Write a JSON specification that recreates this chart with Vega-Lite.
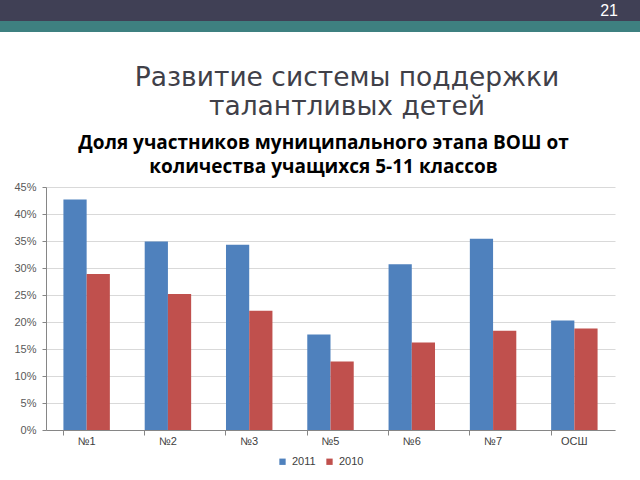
{
  "$schema": "https://vega.github.io/schema/vega-lite/v6.json",
  "padding": 0,
  "spacing": 0,
  "background": "white",
  "config": {"view": {"stroke": null}, "font": "DejaVu Sans", "legend": {"layout": {"bottom": {"anchor": "middle"}}}},
  "vconcat": [
    {
      "width": 640, "height": 21,
      "view": {"fill": "#404055", "stroke": null},
      "data": {"values": [{"page": "21"}]},
      "mark": {"type": "text", "color": "white", "fontSize": 16, "font": "Liberation Sans", "align": "right", "dx": -22},
      "encoding": {
        "x": {"datum": 1, "type": "quantitative", "scale": {"domain": [0, 1]}, "axis": null},
        "text": {"field": "page"}
      }
    },
    {
      "width": 640, "height": 11,
      "view": {"fill": "#3e8080", "stroke": null},
      "data": {"values": []},
      "mark": "rect",
      "encoding": {}
    },
    {
      "width": 640, "height": 102,
      "data": {"values": [{"t": "Развитие системы поддержки\nталантливых детей"}]},
      "mark": {"type": "text", "lineBreak": "\n", "fontSize": 26.5, "color": "#404048", "dx": 27, "dy": -5, "lineHeight": 29},
      "encoding": {"text": {"field": "t"}}
    },
    {
      "spacing": 0,
      "hconcat": [
        {
          "width": 13, "height": 243,
          "data": {"values": []},
          "mark": "rect",
          "encoding": {}
        },
        {
          "width": 569, "height": 243,
          "title": {
            "text": ["Доля участников муниципального этапа ВОШ от", "количества учащихся 5-11 классов"],
            "font": "Open Sans", "fontSize": 19, "fontWeight": "bold", "color": "#000000",
            "anchor": "middle", "dx": -7, "offset": 4, "lineHeight": 24
          },
          "data": {"values": [
            {"school": "№1", "year": "2011", "share": 0.427},
            {"school": "№1", "year": "2010", "share": 0.289},
            {"school": "№2", "year": "2011", "share": 0.349},
            {"school": "№2", "year": "2010", "share": 0.252},
            {"school": "№3", "year": "2011", "share": 0.343},
            {"school": "№3", "year": "2010", "share": 0.221},
            {"school": "№5", "year": "2011", "share": 0.177},
            {"school": "№5", "year": "2010", "share": 0.127},
            {"school": "№6", "year": "2011", "share": 0.307},
            {"school": "№6", "year": "2010", "share": 0.162},
            {"school": "№7", "year": "2011", "share": 0.354},
            {"school": "№7", "year": "2010", "share": 0.184},
            {"school": "ОСШ", "year": "2011", "share": 0.203},
            {"school": "ОСШ", "year": "2010", "share": 0.188}
          ]},
          "mark": {"type": "bar"},
          "encoding": {
            "x": {
              "field": "school", "type": "nominal", "sort": null, "title": null,
              "scale": {"paddingInner": 0.4286, "paddingOuter": 0.2143},
              "axis": {"labelAngle": 0, "labelFont": "Liberation Sans", "labelFontSize": 11, "labelColor": "#404040", "labelPadding": 0, "domainColor": "#868686", "tickColor": "#868686", "tickSize": 5, "bandPosition": 0, "grid": false}
            },
            "xOffset": {"field": "year", "type": "nominal", "sort": ["2011", "2010"]},
            "y": {
              "field": "share", "type": "quantitative", "title": null,
              "scale": {"domain": [0, 0.45], "nice": false},
              "axis": {"values": [0, 0.05, 0.1, 0.15, 0.2, 0.25, 0.3, 0.35, 0.4, 0.45], "format": ".0%", "labelFont": "Liberation Sans", "labelFontSize": 11, "labelColor": "#595959", "labelPadding": 6, "domainColor": "#868686", "tickColor": "#868686", "tickSize": 4, "gridColor": "#d9d9d9"}
            },
            "color": {
              "field": "year", "type": "nominal", "title": null,
              "scale": {"domain": ["2011", "2010"], "range": ["#4f81bd", "#c0504d"]},
              "legend": {"orient": "bottom", "direction": "horizontal", "symbolType": "square", "symbolSize": 40, "labelFont": "Liberation Sans", "labelFontSize": 11, "labelColor": "#404040", "offset": 10, "columnPadding": 8}
            }
          }
        }
      ]
    }
  ]
}
